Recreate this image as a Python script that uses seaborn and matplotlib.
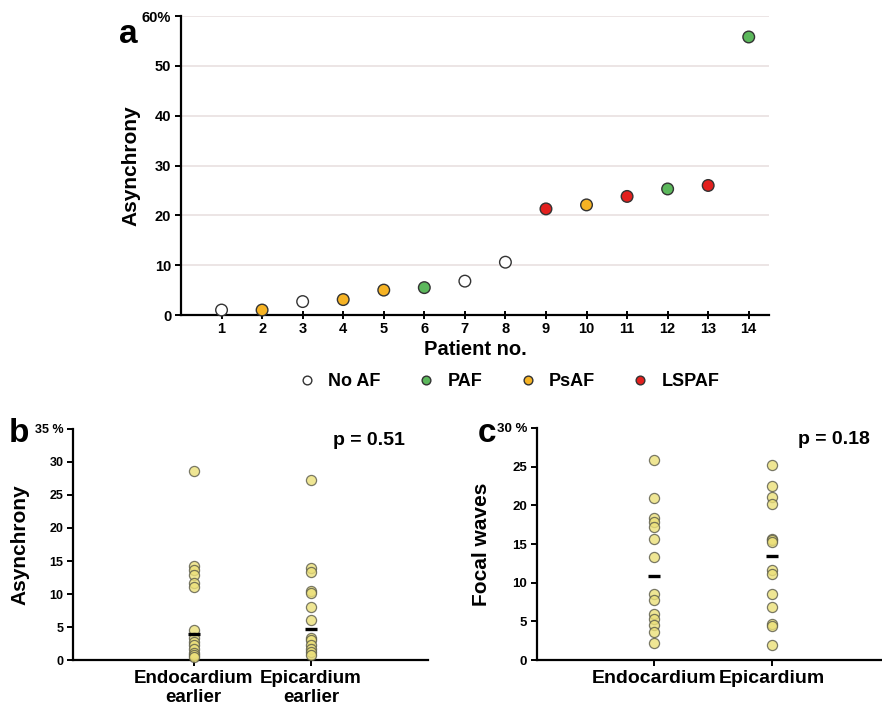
import numpy as np
import pandas as pd
import matplotlib.pyplot as plt
import seaborn as sns

# panel a data
patients = list(range(1, 15))
asynchrony = [1.0, 1.0, 2.7, 3.1, 5.0, 5.5, 6.8, 10.6, 21.3, 22.1, 23.8, 25.3, 26.0, 55.8]
af_type = ["No AF", "PsAF", "No AF", "PsAF", "PsAF", "PAF", "No AF", "No AF",
           "LSPAF", "PsAF", "LSPAF", "PAF", "LSPAF", "PAF"]
af_order = ["No AF", "PAF", "PsAF", "LSPAF"]
af_colors = ["#ffffff", "#5cb85c", "#f6b324", "#e3201e"]

# panel b data
b_groups = ["Endocardium\nearlier", "Epicardium\nearlier"]
b_endo = [28.7, 14.2, 13.6, 12.9, 11.6, 11.0, 4.5, 3.3, 2.8, 2.2, 1.6, 1.1, 0.7, 0.4]
b_epi = [27.2, 14.0, 13.4, 10.5, 10.2, 8.0, 6.1, 3.4, 3.0, 2.3, 1.6, 1.2, 0.7]
b_median = [3.9, 4.7]

# panel c data
c_groups = ["Endocardium", "Epicardium"]
c_endo = [25.9, 21.0, 18.3, 17.8, 17.2, 15.6, 13.3, 8.6, 7.7, 6.0, 5.3, 4.5, 3.6, 2.2]
c_epi = [25.2, 22.5, 21.1, 20.2, 15.7, 15.5, 15.3, 11.7, 11.1, 8.6, 6.8, 4.6, 4.4, 1.9]
c_median = [10.9, 13.4]

sns.set_theme(style="ticks")
plt.rcParams["font.family"] = ["Liberation Sans", "DejaVu Sans"]
plt.rcParams["font.weight"] = "bold"
plt.rcParams["axes.labelweight"] = "bold"
for key in ["text.color", "axes.labelcolor", "xtick.color", "ytick.color"]:
    plt.rcParams[key] = "black"

fig = plt.figure(figsize=(8.82, 7.1), dpi=100)

# ---- panel a ----
ax = fig.add_axes([0.2052, 0.5563, 0.6667, 0.4211])
df_a = pd.DataFrame({"Patient no.": patients, "Asynchrony": asynchrony, "type": af_type})
sns.scatterplot(data=df_a, x="Patient no.", y="Asynchrony", hue="type",
                hue_order=af_order, palette=af_colors, s=70, edgecolor="#333333",
                linewidth=1.0, ax=ax, zorder=3, clip_on=False)
ax.set_xlim(0, 14.5)
ax.set_ylim(0, 60)
ax.set_xticks(patients)
ax.set_yticks(range(0, 61, 10))
ax.set_yticklabels([str(v) for v in range(0, 51, 10)] + ["60%"])
ax.yaxis.grid(True, color="#e9e0e0", lw=1.2)
ax.set_axisbelow(True)
sns.despine(ax=ax)
for s in ["left", "bottom"]:
    ax.spines[s].set_linewidth(1.6)
    ax.spines[s].set_color("black")
ax.tick_params(axis="y", length=4, width=1.4, labelsize=10.5, pad=3)
ax.tick_params(axis="x", direction="inout", length=6, width=1.4, labelsize=10.5, pad=2)
ax.set_xlabel("Patient no.", fontsize=14.5, labelpad=3)
ax.set_ylabel("Asynchrony", fontsize=15, labelpad=1)
sns.move_legend(ax, "upper center", bbox_to_anchor=(0.55, -0.14), ncol=4,
                frameon=False, title=None, fontsize=13, markerscale=0.75,
                handletextpad=0.2, columnspacing=1.5)
fig.text(0.145, 0.952, "a", fontsize=24, fontweight="bold", ha="center", va="center")


def strip_panel(rect, groups, first, second, medians, ymax, top_label, ylab,
                ptext, p_x, letter, letter_x, tick_size, xlim, xlab_size):
    axp = fig.add_axes(rect)
    df = pd.DataFrame({"group": [groups[0]] * len(first) + [groups[1]] * len(second),
                       "value": first + second})
    sns.stripplot(data=df, x="group", y="value", order=groups, jitter=False,
                  size=7.3, color="#ece07a", edgecolor="#5a5a4a", linewidth=0.9,
                  alpha=0.8, ax=axp, zorder=3, clip_on=False)
    sns.pointplot(x=groups, y=medians, order=groups, color="black", marker="_",
                  linestyle="none", errorbar=None, markersize=9,
                  markeredgewidth=2.4, ax=axp, zorder=4)
    axp.set_xlim(*xlim)
    axp.set_ylim(0, ymax)
    ticks = list(range(0, ymax + 1, 5))
    axp.set_yticks(ticks)
    axp.set_yticklabels([str(t) for t in ticks[:-1]] + [top_label])
    sns.despine(ax=axp)
    for s in ["left", "bottom"]:
        axp.spines[s].set_linewidth(1.6)
        axp.spines[s].set_color("black")
    axp.tick_params(axis="y", length=4, width=1.4, labelsize=tick_size, pad=3)
    axp.tick_params(axis="x", length=4, width=1.4, labelsize=xlab_size, pad=3)
    axp.set_xlabel("")
    axp.set_ylabel(ylab, fontsize=15, labelpad=4)
    axp.text(p_x, 0.95, ptext, transform=axp.transAxes, fontsize=14,
             fontweight="bold", ha="right", va="center")
    fig.text(letter_x, 0.39, letter, fontsize=24, fontweight="bold",
             ha="center", va="center")
    return axp


strip_panel([0.0828, 0.0704, 0.4025, 0.3254], b_groups, b_endo, b_epi, b_median,
            35, "35 %", "Asynchrony", "p = 0.51", 0.935, "b", 0.022, 9,
            (-1.03, 2.0), 13.5)
strip_panel([0.6088, 0.0704, 0.3912, 0.3268], c_groups, c_endo, c_epi, c_median,
            30, "30 %", "Focal waves", "p = 0.18", 0.965, "c", 0.552, 9.5,
            (-1.0, 1.94), 14)

fig.savefig("out.png", dpi=100)
